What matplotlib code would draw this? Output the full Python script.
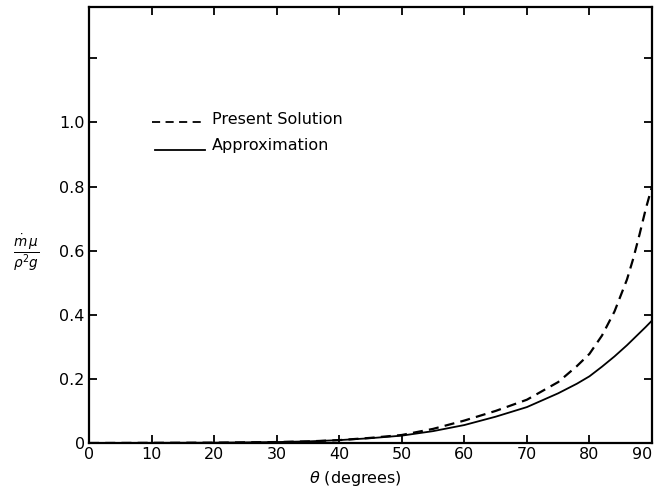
import matplotlib
matplotlib.use("Agg")
import matplotlib.pyplot as plt
import numpy as np

# Values
theta = [0, 10, 20, 30, 35, 40, 45, 50, 55, 60, 65, 70, 75, 78, 80, 82, 84, 86, 87, 88, 89, 90]
approx = [0.0, 0.0005, 0.001, 0.003, 0.005, 0.009, 0.015, 0.023, 0.037, 0.056, 0.082, 0.112,
          0.155, 0.185, 0.208, 0.238, 0.270, 0.305, 0.324, 0.343, 0.362, 0.382]
present = [0.0, 0.0005, 0.001, 0.003, 0.005, 0.009, 0.016, 0.025, 0.044, 0.070, 0.100, 0.135,
           0.190, 0.240, 0.278, 0.335, 0.410, 0.510, 0.575, 0.650, 0.730, 0.800]

x_ticks = [0, 10, 20, 30, 40, 50, 60, 70, 80, 90]
y_ticks = [0, 0.2, 0.4, 0.6, 0.8, 1.0, 1.2]
y_labels = ['0', '0.2', '0.4', '0.6', '0.8', '1.0', '']

plt.rcParams['font.family'] = ['DejaVu Sans']

fig = plt.figure(figsize=(6.54, 4.94), dpi=100)
ax = fig.add_axes([89 / 654, 51 / 494, 563 / 654, 436 / 494])

ax.plot(theta, present, color='black', lw=1.6, ls=(0, (4.5, 2.8)))
ax.plot(theta, approx, color='black', lw=1.3)

ax.set_xlim(0, 90)
ax.set_ylim(0, 1.36)
ax.set_xticks(x_ticks)
ax.set_xticklabels([str(v) for v in x_ticks])
ax.set_yticks(y_ticks)
ax.set_yticklabels(y_labels)
ax.tick_params(direction='in', length=6, width=1.3, top=True, right=True,
               labelsize=11.5, pad=3)
ax.get_xticklabels()[-1].set_horizontalalignment('right')
for s in ax.spines.values():
    s.set_linewidth(1.6)

# legend drawn by hand like the original lettering
ax.plot([10, 18.5], [1.0, 1.0], color='black', lw=1.3, ls=(0, (4.5, 3)))
ax.plot([10.5, 18.5], [0.915, 0.915], color='black', lw=1.3)
ax.text(19.6, 1.008, 'Present Solution', fontsize=11.5, va='center', ha='left')
ax.text(19.6, 0.928, 'Approximation', fontsize=11.5, va='center', ha='left')

fig.text(355 / 654, 1 - 478 / 494, r'$\theta$ (degrees)', ha='center', va='center', fontsize=11.5)
fig.text(26 / 654, 1 - 253 / 494, r'$\frac{\dot{m}\,\mu}{\rho^2 g}$', ha='center', va='center',
         fontsize=14)

fig.savefig('out.png', dpi=100)
